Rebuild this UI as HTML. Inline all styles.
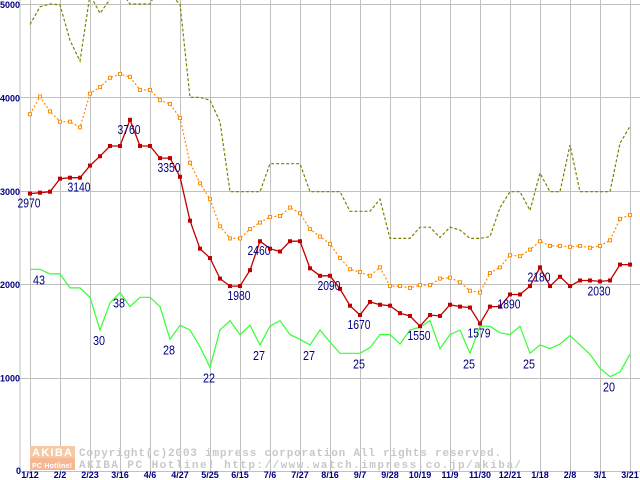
<!DOCTYPE html>
<html><head><meta charset="utf-8"><style>
html,body{margin:0;padding:0;background:#fff;}
svg{display:block;}
</style></head><body>
<svg id="chart" width="640" height="480" xmlns="http://www.w3.org/2000/svg" font-family="Liberation Sans, sans-serif">
<g id="grid"></g>
<g id="axes"></g>
<g id="watermark">
  <rect x="30" y="446" width="45" height="12" fill="#f6c9a6"/>
  <rect x="30" y="458" width="45" height="12" fill="#f6b894"/>
  <text x="52" y="456" font-size="11" font-weight="bold" fill="#fff" text-anchor="middle" textLength="40">AKIBA</text>
  <text x="52" y="468" font-size="7" font-weight="bold" fill="#fff" text-anchor="middle" textLength="40">PC Hotline!</text>
  <text x="79" y="456" font-family="Liberation Mono, monospace" font-size="11" font-weight="bold" fill="#c8c8c8" textLength="422">Copyright(c)2003 impress corporation All rights reserved.</text>
  <text x="79" y="468" font-family="Liberation Mono, monospace" font-size="11" font-weight="bold" fill="#c8c8c8" textLength="442">AKIBA PC Hotline!  http://www.watch.impress.co.jp/akiba/</text>
</g>
<g id="series"></g>
<g id="labels"></g>
</svg>
<script>
const xTickLabels = ["1/12","2/2","2/23","3/16","4/6","4/27","5/25","6/15","7/6","7/27","8/16","9/7","9/28","10/19","11/9","11/30","12/21","1/18","2/8","3/1","3/21"];
const yTicks = [0,1000,2000,3000,4000,5000];
const olive = [4780,4970,5000,4990,4610,4390,5100,4900,5050,5150,5000,5000,5000,5200,5100,5000,4000,4000,3970,3740,2990,2990,2990,2990,3290,3290,3290,3290,2990,2990,2990,2990,2780,2780,2780,2910,2490,2490,2490,2610,2610,2500,2610,2580,2490,2490,2510,2820,2990,2990,2790,3190,2990,2990,3490,2990,2990,2990,2990,3510,3690];
const orange = [3820,4010,3850,3740,3740,3680,4040,4110,4210,4250,4220,4080,4080,3970,3930,3780,3300,3080,2910,2620,2490,2490,2590,2660,2720,2730,2820,2760,2590,2510,2430,2280,2160,2130,2090,2180,1980,1980,1960,1990,1990,2060,2070,2020,1930,1910,2120,2180,2310,2300,2370,2460,2410,2410,2400,2410,2390,2410,2470,2700,2740];
const red = [2970,2980,2990,3130,3140,3140,3270,3370,3480,3480,3760,3480,3480,3350,3350,3150,2680,2380,2280,2060,1980,1980,2150,2460,2380,2350,2460,2460,2170,2090,2090,1950,1770,1670,1810,1780,1770,1690,1660,1550,1670,1660,1780,1760,1750,1579,1760,1760,1890,1890,1980,2180,1980,2080,1980,2040,2040,2030,2040,2210,2210];
const green = [2160,2160,2110,2110,1960,1960,1860,1510,1800,1910,1760,1860,1860,1760,1410,1560,1510,1330,1110,1510,1610,1460,1560,1350,1550,1610,1460,1410,1350,1510,1380,1260,1260,1260,1320,1460,1460,1360,1510,1540,1610,1310,1460,1510,1260,1550,1550,1480,1460,1550,1260,1350,1310,1360,1450,1350,1250,1100,1010,1060,1250];
const redLabelIdx = [0,5,10,14,21,23,30,33,39,45,48,51,57];
const redLabelText = ["2970","3140","3760","3350","1980","2460","2090","1670","1550","1579","1890","2180","2030"];
const greenLabelIdx = [1,7,9,14,18,23,28,33,44,50,58];
const greenLabelText = ["43","30","38","28","22","27","27","25","25","25","20"];

const NS="http://www.w3.org/2000/svg";
const X = i => 30 + 10*i;
const Y = v => 471 - v*0.0934;
function mk(tag, attrs, parent){const e=document.createElementNS(NS,tag);for(const k in attrs)e.setAttribute(k,attrs[k]);parent.appendChild(e);return e;}
const grid=document.getElementById('grid'), axes=document.getElementById('axes'), ser=document.getElementById('series'), lab=document.getElementById('labels');

// vertical gridlines
mk('line',{x1:20,y1:0,x2:20,y2:471,stroke:'#c0c0c0','stroke-width':1},grid);
xTickLabels.forEach((t,k)=>{
  const x=X(k*3);
  const l=mk('line',{x1:x+0.5,y1:0,x2:x+0.5,y2:471,stroke:'#c0c0c0','stroke-width':1},grid);
  
  
  const tx=mk('text',{x:x,y:478,'font-size':9,'font-weight':'bold',fill:'#000080','text-anchor':'middle'},axes);
  tx.textContent=t;
  
  
});
yTicks.forEach(v=>{
  const y=Y(v);
  const l=mk('line',{x1:20,y1:Math.round(y)+0.5,x2:640,y2:Math.round(y)+0.5,stroke:'#c0c0c0','stroke-width':1},grid);
  
  
  const s=v===0?"0":String(v);
  const tx=mk('text',{x:v===0?16:0,y:Math.min(Math.max(y+4,8),474),'font-size':9,'font-weight':'bold',fill:'#000080'},axes);
  if(v!==0) tx.setAttribute('textLength','20');
  tx.textContent=s;
  
  
});

function pts(arr){return arr.map((v,i)=>X(i)+','+Y(v).toFixed(1)).join(' ');}
const clip=mk('clipPath',{id:'plotclip'},ser); mk('rect',{x:20,y:0,width:620,height:472},clip);

const pOl=mk('polyline',{points:pts(olive),fill:'none',stroke:'#808000','stroke-width':1.2,'stroke-dasharray':'3,2','clip-path':'url(#plotclip)'},ser);


const pOr=mk('polyline',{points:pts(orange),fill:'none',stroke:'#ff8c00','stroke-width':1.2,'stroke-dasharray':'2,2'},ser);


orange.forEach((v,i)=>{const r=mk('rect',{x:X(i)-1.5,y:Y(v)-1.5,width:3,height:3,fill:'#fff',stroke:'#ff8c00','stroke-width':1},ser);
  
  });
const pG=mk('polyline',{points:pts(green),fill:'none',stroke:'#33ff33','stroke-width':1.2},ser);


const pR=mk('polyline',{points:pts(red),fill:'none',stroke:'#c00000','stroke-width':1.3},ser);


red.forEach((v,i)=>{const r=mk('rect',{x:X(i)-2,y:Y(v)-2,width:4,height:4,fill:'#c00000'},ser);
  
  });

redLabelIdx.forEach((i,k)=>{
  const t=mk('text',{x:X(i)-1,y:Y(red[i])+14,'font-size':13,fill:'#000080','text-anchor':'middle',textLength:23,lengthAdjust:'spacingAndGlyphs'},lab);
  t.textContent=redLabelText[k];
  
  
});
greenLabelIdx.forEach((i,k)=>{
  const t=mk('text',{x:X(i)-1,y:Y(green[i])+15,'font-size':13,fill:'#000080','text-anchor':'middle',textLength:12,lengthAdjust:'spacingAndGlyphs'},lab);
  t.textContent=greenLabelText[k];
  
  
});
</script>
</body></html>
